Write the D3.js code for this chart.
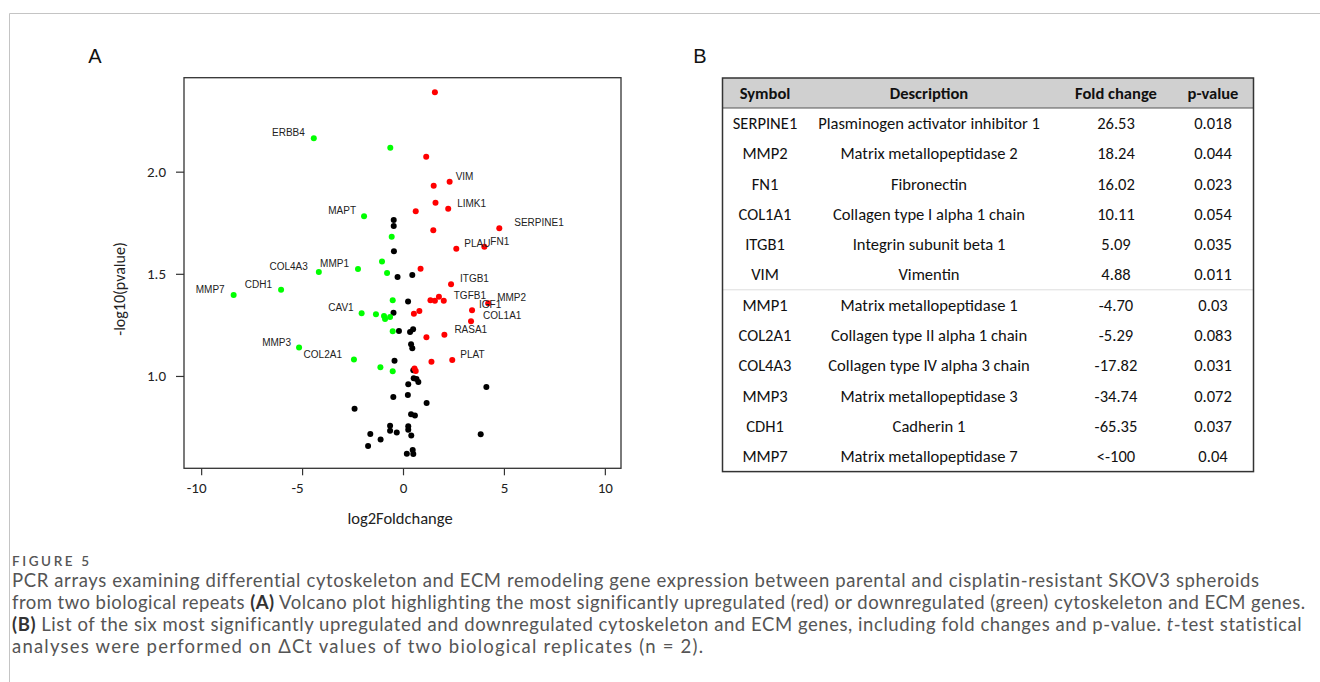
<!DOCTYPE html>
<html><head><meta charset="utf-8">
<script src="https://cdn.jsdelivr.net/npm/d3@7"></script>
<style>body{margin:0;background:#fff}svg{display:block}</style>
</head><body>
<svg id="c" width="1320" height="682"></svg>
<script>
// ---------- data ----------
const xTicks = [-10, -5, 0, 5, 10];
const yTicks = [1.0, 1.5, 2.0];

// upregulated (red)
const upLabel = ["", "", "VIM", "", "", "LIMK1", "", "SERPINE1", "", "FN1", "PLAU", "", "ITGB1", "", "", "", "TGFB1", "MMP2", "IGF1", "COL1A1", "", "", "RASA1", "", "PLAT", "", "", ""];
const upX = [1.58, 1.15, 2.31, 1.52, 1.61, 2.24, 0.63, 4.77, 1.50, 4.03, 2.64, 0.87, 2.38, 1.36, 1.58, 1.78, 2.02, 4.22, 3.42, 3.37, 0.54, 0.81, 2.05, 1.16, 2.44, 1.41, 0.57, 0.63];
const upY = [2.389, 2.073, 1.951, 1.931, 1.848, 1.819, 1.806, 1.723, 1.713, 1.633, 1.623, 1.525, 1.449, 1.371, 1.368, 1.388, 1.368, 1.356, 1.322, 1.268, 1.305, 1.318, 1.202, 1.190, 1.078, 1.070, 1.037, 1.024];

// downregulated (green)
const downLabel = ["ERBB4", "", "MAPT", "", "", "MMP1", "COL4A3", "", "MMP7", "CDH1", "", "CAV1", "", "", "", "", "", "MMP3", "COL2A1", "", ""];
const downX = [-4.42, -0.63, -1.93, -0.56, -1.04, -2.23, -4.17, -0.79, -8.39, -6.04, -0.51, -2.05, -1.34, -0.94, -0.89, -0.64, -0.51, -5.15, -2.43, -1.12, -0.51];
const downY = [2.163, 2.117, 1.782, 1.682, 1.560, 1.523, 1.509, 1.504, 1.396, 1.422, 1.371, 1.307, 1.302, 1.294, 1.279, 1.289, 1.219, 1.139, 1.080, 1.043, 1.023];

// not significant (black)
const nsX = [-0.46, -0.46, -0.45, -0.27, 0.46, 0.25, -0.47, -0.20, 0.35, 0.50, 0.40, 0.46, -0.42, 0.51, 0.53, 0.67, 0.76, 0.26, 4.13, -0.48, 0.24, 1.17, -2.40, 0.40, 0.59, -0.64, -0.64, -0.31, 0.26, 0.26, 0.41, 3.85, -1.62, -1.11, -1.73, 0.19, 0.48, 0.51];
const nsY = [1.764, 1.734, 1.610, 1.485, 1.494, 1.365, 1.310, 1.220, 1.215, 1.229, 1.155, 1.136, 1.074, 1.028, 0.989, 0.985, 0.971, 0.959, 0.946, 0.897, 0.907, 0.868, 0.840, 0.812, 0.807, 0.756, 0.732, 0.723, 0.754, 0.737, 0.709, 0.715, 0.716, 0.689, 0.657, 0.619, 0.638, 0.618];

// table
const tableHeaders = ["Symbol", "Description", "Fold change", "p-value"];
const tableSymbols = ["SERPINE1", "MMP2", "FN1", "COL1A1", "ITGB1", "VIM", "MMP1", "COL2A1", "COL4A3", "MMP3", "CDH1", "MMP7"];
const tableDescriptions = ["Plasminogen activator inhibitor 1", "Matrix metallopeptidase 2", "Fibronectin", "Collagen type I alpha 1 chain", "Integrin subunit beta 1", "Vimentin", "Matrix metallopeptidase 1", "Collagen type II alpha 1 chain", "Collagen type IV alpha 3 chain", "Matrix metallopeptidase 3", "Cadherin 1", "Matrix metallopeptidase 7"];
const tableFold = ["26.53", "18.24", "16.02", "10.11", "5.09", "4.88", "-4.70", "-5.29", "-17.82", "-34.74", "-65.35", "<-100"];
const tablePval = ["0.018", "0.044", "0.023", "0.054", "0.035", "0.011", "0.03", "0.083", "0.031", "0.072", "0.037", "0.04"];

// caption
const captionTitle = "FIGURE 5";
const captionLines = [
  [["PCR arrays examining differential cytoskeleton and ECM remodeling gene expression between parental and cisplatin-resistant SKOV3 spheroids", ""]],
  [["from two biological repeats ", ""], ["(A)", "b"], [" Volcano plot highlighting the most significantly upregulated (red) or downregulated (green) cytoskeleton and ECM genes.", ""]],
  [["(B)", "b"], [" List of the six most significantly upregulated and downregulated cytoskeleton and ECM genes, including fold changes and p-value. ", ""], ["t", "i"], ["-test statistical", ""]],
  [["analyses were performed on \u0394Ct values of two biological replicates (n = 2).", ""]]
];

// ---------- layout (not data) ----------
const labelDx = {ERBB4:-9, MAPT:-8, MMP1:-9, COL4A3:-11, MMP7:-9, CDH1:-9, CAV1:-8, MMP3:-8, COL2A1:-12,
  VIM:6, LIMK1:9, SERPINE1:15, FN1:6, PLAU:8, ITGB1:9, TGFB1:10, MMP2:9, IGF1:7, COL1A1:12, RASA1:10, PLAT:8};

const svg = d3.select("#c");
svg.append("rect").attr("width",1320).attr("height",682).attr("fill","#fff");
svg.append("path").attr("d","M9.5,682V13.5H1320").attr("fill","none").attr("stroke","#c4c4c4").attr("stroke-width",1);

// panel labels
svg.append("text").attr("x",95).attr("y",63).attr("text-anchor","middle")
  .attr("font-family","Liberation Sans, Arial, sans-serif").attr("font-size",20).attr("fill","#111").text("A");
svg.append("text").attr("x",700).attr("y",63).attr("text-anchor","middle")
  .attr("font-family","Liberation Sans, Arial, sans-serif").attr("font-size",20).attr("fill","#111").text("B");

// ---------- volcano ----------
const x = d3.scaleLinear().domain([-10.85, 10.80]).range([184, 621]);
const y = d3.scaleLinear().domain([0.548, 2.46]).range([468.3, 77.7]);
const tickFont = "Carlito, Lato, sans-serif";

const gx = svg.append("g").attr("transform","translate(0,468.3)")
  .call(d3.axisBottom(x).tickValues(xTicks).tickSize(7).tickPadding(7).tickFormat(d3.format("d")));
gx.select(".domain").remove();
gx.selectAll("line").attr("stroke","#333").attr("stroke-width",1.2);
gx.selectAll("text").attr("font-family",tickFont).attr("font-size",15).attr("fill","#222")
  .attr("dx", d => d < 0 ? -5 : 0).text(d => d < 0 ? "-" + Math.abs(d) : d);

const gy = svg.append("g").attr("transform","translate(184,0)")
  .call(d3.axisLeft(y).tickValues(yTicks).tickSize(8).tickPadding(10).tickFormat(d3.format(".1f")));
gy.select(".domain").remove();
gy.selectAll("line").attr("stroke","#333").attr("stroke-width",1.2);
gy.selectAll("text").attr("font-family",tickFont).attr("font-size",15).attr("fill","#222");

svg.append("rect").attr("x",184).attr("y",77.7).attr("width",437).attr("height",390.6)
  .attr("fill","none").attr("stroke","#333").attr("stroke-width",1.3);

svg.append("text").attr("x",400).attr("y",524).attr("text-anchor","middle")
  .attr("font-family",tickFont).attr("font-size",16.5).attr("fill","#222").text("log2Foldchange");
svg.append("text").attr("transform","translate(125,289) rotate(-90)").attr("text-anchor","middle")
  .attr("font-family",tickFont).attr("font-size",16).attr("fill","#222").text("-log10(pvalue)");

function drawGroup(xs, ys, color) {
  svg.append("g").selectAll("circle").data(xs.map((v,i)=>[v, ys[i]])).join("circle")
    .attr("cx", d => x(d[0])).attr("cy", d => y(d[1])).attr("r", 3).attr("fill", color);
}
drawGroup(nsX, nsY, "#000");
drawGroup(downX, downY, "#00ff00");
drawGroup(upX, upY, "#ff0000");

function drawLabels(xs, ys, labels) {
  const items = labels.map((l,i)=>({l, x: xs[i], y: ys[i]})).filter(d => d.l);
  svg.append("g").selectAll("text").data(items).join("text")
    .attr("x", d => x(d.x) + labelDx[d.l]).attr("y", d => y(d.y) - 5.5)
    .attr("dy","0.35em")
    .attr("text-anchor", d => labelDx[d.l] < 0 ? "end" : "start")
    .attr("font-family","Liberation Sans, Arial, sans-serif").attr("font-size",10).attr("fill","#222")
    .text(d => d.l);
}
drawLabels(downX, downY, downLabel);
drawLabels(upX, upY, upLabel);

// ---------- table ----------
const tLeft = 722.5, tRight = 1253.5, tTop = 78, headH = 30, rowH = 30.3;
const colCenters = [765, 929, 1116, 1213];
const nRows = tableSymbols.length;
const tBottom = tTop + headH + nRows*rowH;
const tg = svg.append("g");
tg.append("rect").attr("x",tLeft).attr("y",tTop).attr("width",tRight-tLeft).attr("height",headH).attr("fill","#d0d0d0");
tg.append("line").attr("x1",tLeft).attr("x2",tRight).attr("y1",tTop+headH).attr("y2",tTop+headH).attr("stroke","#555").attr("stroke-width",1);
tg.append("line").attr("x1",tLeft).attr("x2",tRight).attr("y1",tTop+headH+6*rowH).attr("y2",tTop+headH+6*rowH)
  .attr("stroke","#bbb").attr("stroke-width",1).attr("stroke-dasharray","1,1");
tg.append("rect").attr("x",tLeft).attr("y",tTop).attr("width",tRight-tLeft).attr("height",tBottom-tTop)
  .attr("fill","none").attr("stroke","#333").attr("stroke-width",1.5);

const tableFont = "Carlito, Lato, sans-serif";
const probe = tg.append("text").attr("font-family",tableFont).attr("font-size",15).text(tableDescriptions[0]);
const fs = 15 * 222 / probe.node().getComputedTextLength();
probe.remove();

tg.selectAll("text.h").data(tableHeaders).join("text").attr("class","h")
  .attr("x",(d,i)=>colCenters[i]).attr("y",tTop+headH/2).attr("dy","0.35em").attr("text-anchor","middle")
  .attr("font-family",tableFont).attr("font-size",fs).attr("font-weight","bold").attr("fill","#111").text(d=>d);
const cols = [tableSymbols, tableDescriptions, tableFold, tablePval];
cols.forEach((col, ci) => {
  tg.append("g").selectAll("text").data(col).join("text")
    .attr("x", colCenters[ci]).attr("y",(d,i)=>tTop+headH+(i+0.5)*rowH).attr("dy","0.35em").attr("text-anchor","middle")
    .attr("font-family",tableFont).attr("font-size",fs).attr("fill","#111").text(d=>d);
});

// ---------- caption ----------
const capFont = "Lato, sans-serif";
function fitSpacing(t, target, n) {
  const w = t.node().getComputedTextLength();
  t.attr("letter-spacing", (target - w) / (n - 1));
}
// title
const ft = svg.append("text").attr("x",12).attr("y",565.5).attr("font-family",capFont).attr("font-size",13.5)
  .attr("font-weight",600).attr("fill","#555").text(captionTitle);
fitSpacing(ft, 77, captionTitle.length);

// body: choose font size from first line, then fine-tune spacing per line
const capTargets = [1259, 1305, 1302, 703];
const p0 = svg.append("text").attr("font-family",capFont).attr("font-size",16).text(captionLines[0].map(s=>s[0]).join(""));
const capFs = Math.min(18.5, 16 * (capTargets[0] - 12) / p0.node().getComputedTextLength());
p0.remove();
captionLines.forEach((segs, li) => {
  const t = svg.append("text").attr("x",12).attr("y",587 + li*22)
    .attr("font-family",capFont).attr("font-size",capFs).attr("fill","#555");
  segs.forEach(s => {
    const ts = t.append("tspan").text(s[0]);
    if (s[1] === "b") ts.attr("font-weight","bold").attr("fill","#333");
    if (s[1] === "i") ts.attr("font-style","italic");
  });
  const n = segs.map(s=>s[0]).join("").length;
  fitSpacing(t, capTargets[li] - 12, n);
});
</script>
</body></html>
